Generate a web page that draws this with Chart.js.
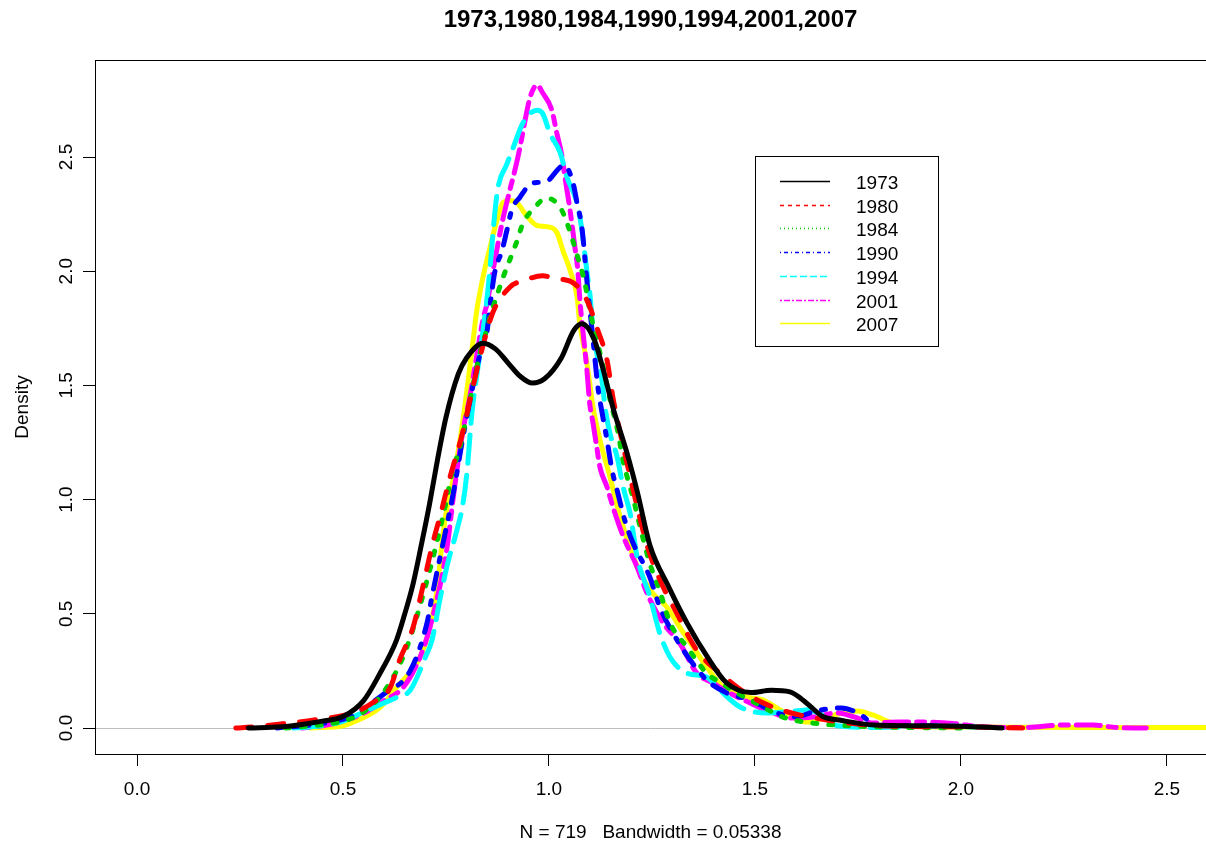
<!DOCTYPE html>
<html>
<head>
<meta charset="utf-8">
<script src="https://cdn.jsdelivr.net/npm/chart.js@4.4.1/dist/chart.umd.min.js"></script>
<style>
  html, body { margin: 0; padding: 0; background: #fff; overflow: hidden; }
  canvas { display: block; }
</style>
</head>
<body>
<canvas id="densityChart" width="1206" height="850"></canvas>
<script>
// series labels and colours (R palette 1..7)
const years = ["1973", "1980", "1984", "1990", "1994", "2001", "2007"];
const colors = ["#000000", "#FF0000", "#00CD00", "#0000FF", "#00FFFF", "#FF00FF", "#FFFF00"];

// density estimates (x = value, y = density)
const x1973 = [0.27, 0.35, 0.40, 0.45, 0.50, 0.55, 0.59, 0.63, 0.65, 0.67, 0.69, 0.71, 0.73, 0.75, 0.78, 0.80, 0.84, 0.87, 0.90, 0.93, 0.96, 0.99, 1.03, 1.06, 1.08, 1.11, 1.13, 1.155, 1.19, 1.215, 1.245, 1.29, 1.335, 1.385, 1.43, 1.49, 1.54, 1.585, 1.625, 1.665, 1.705, 1.79, 1.9, 2.0, 2.1];
const y1973 = [0, 0.005, 0.015, 0.03, 0.05, 0.12, 0.24, 0.385, 0.50, 0.63, 0.80, 0.98, 1.18, 1.36, 1.55, 1.62, 1.685, 1.66, 1.6, 1.54, 1.51, 1.53, 1.62, 1.74, 1.77, 1.70, 1.58, 1.405, 1.20, 1.03, 0.80, 0.62, 0.46, 0.31, 0.20, 0.155, 0.165, 0.158, 0.11, 0.05, 0.035, 0.013, 0.01, 0.008, 0];

const x1980 = [0.24, 0.28, 0.36, 0.43, 0.53, 0.58, 0.614, 0.638, 0.67, 0.694, 0.718, 0.736, 0.76, 0.79, 0.81, 0.837, 0.864, 0.905, 0.94, 0.985, 1.002, 1.03, 1.058, 1.082, 1.10, 1.116, 1.141, 1.155, 1.172, 1.192, 1.214, 1.238, 1.269, 1.311, 1.359, 1.422, 1.471, 1.52, 1.58, 1.675, 1.8, 2.0, 2.15];
const y1980 = [0, 0.005, 0.02, 0.035, 0.07, 0.12, 0.175, 0.30, 0.44, 0.62, 0.81, 0.93, 1.10, 1.29, 1.45, 1.655, 1.82, 1.93, 1.96, 1.98, 1.975, 1.965, 1.95, 1.905, 1.84, 1.755, 1.61, 1.45, 1.30, 1.14, 0.97, 0.80, 0.65, 0.50, 0.34, 0.23, 0.16, 0.11, 0.07, 0.035, 0.01, 0.005, 0];

const x1984 = [0.36, 0.45, 0.50, 0.55, 0.60, 0.65, 0.70, 0.748, 0.765, 0.784, 0.803, 0.833, 0.85, 0.857, 0.874, 0.888, 0.905, 0.922, 0.937, 0.961, 0.995, 1.027, 1.046, 1.07, 1.087, 1.10, 1.116, 1.128, 1.148, 1.167, 1.18, 1.192, 1.204, 1.216, 1.245, 1.269, 1.294, 1.335, 1.383, 1.415, 1.46, 1.512, 1.568, 1.638, 1.70, 1.8, 2.0];
const y1984 = [0, 0.015, 0.03, 0.07, 0.16, 0.33, 0.62, 0.97, 1.12, 1.23, 1.39, 1.645, 1.75, 1.80, 1.895, 1.97, 2.05, 2.13, 2.21, 2.27, 2.32, 2.28, 2.20, 2.06, 1.95, 1.82, 1.70, 1.61, 1.44, 1.30, 1.17, 1.085, 1.01, 0.92, 0.72, 0.60, 0.46, 0.355, 0.24, 0.20, 0.15, 0.10, 0.048, 0.022, 0.013, 0.005, 0];

const x1990 = [0.34, 0.45, 0.52, 0.57, 0.60, 0.663, 0.704, 0.716, 0.743, 0.77, 0.791, 0.833, 0.85, 0.857, 0.869, 0.886, 0.898, 0.91, 0.93, 0.954, 0.978, 1.0, 1.019, 1.036, 1.058, 1.068, 1.08, 1.092, 1.107, 1.119, 1.129, 1.141, 1.153, 1.167, 1.184, 1.204, 1.245, 1.269, 1.311, 1.342, 1.383, 1.432, 1.488, 1.553, 1.60, 1.65, 1.71, 1.75, 1.80, 1.90, 2.0];
const y1990 = [0, 0.02, 0.05, 0.11, 0.15, 0.25, 0.46, 0.575, 0.81, 1.05, 1.27, 1.64, 1.74, 1.85, 2.0, 2.09, 2.18, 2.27, 2.325, 2.38, 2.39, 2.40, 2.44, 2.465, 2.39, 2.30, 2.19, 1.96, 1.70, 1.49, 1.38, 1.26, 1.13, 1.03, 0.91, 0.81, 0.66, 0.53, 0.385, 0.30, 0.21, 0.153, 0.123, 0.066, 0.05, 0.075, 0.088, 0.066, 0.01, 0.01, 0.005];

const x1994 = [0.38, 0.45, 0.50, 0.55, 0.60, 0.631, 0.663, 0.70, 0.716, 0.735, 0.752, 0.777, 0.791, 0.801, 0.813, 0.823, 0.840, 0.852, 0.874, 0.898, 0.913, 0.937, 0.971, 0.985, 1.002, 1.027, 1.044, 1.068, 1.08, 1.092, 1.10, 1.107, 1.116, 1.129, 1.136, 1.148, 1.165, 1.18, 1.197, 1.214, 1.245, 1.269, 1.294, 1.335, 1.383, 1.415, 1.464, 1.53, 1.60, 1.63, 1.66, 1.70, 1.8, 1.95, 2.05];
const y1994 = [0, 0.01, 0.03, 0.07, 0.11, 0.135, 0.165, 0.31, 0.385, 0.56, 0.705, 0.87, 0.98, 1.12, 1.38, 1.52, 1.74, 1.92, 2.34, 2.47, 2.54, 2.65, 2.705, 2.69, 2.605, 2.52, 2.41, 2.30, 2.18, 2.0, 1.89, 1.74, 1.64, 1.52, 1.405, 1.29, 1.19, 1.055, 0.94, 0.75, 0.575, 0.415, 0.31, 0.24, 0.223, 0.166, 0.092, 0.066, 0.075, 0.08, 0.06, 0.01, 0.002, 0.01, 0.003];

const x2001 = [0.40, 0.45, 0.50, 0.55, 0.60, 0.647, 0.687, 0.711, 0.743, 0.755, 0.767, 0.791, 0.808, 0.82, 0.84, 0.85, 0.857, 0.869, 0.886, 0.905, 0.917, 0.93, 0.942, 0.954, 0.971, 0.985, 1.007, 1.019, 1.032, 1.039, 1.051, 1.063, 1.07, 1.075, 1.092, 1.099, 1.107, 1.116, 1.124, 1.141, 1.155, 1.18, 1.214, 1.238, 1.277, 1.318, 1.359, 1.398, 1.439, 1.488, 1.544, 1.585, 1.641, 1.70, 1.748, 1.786, 1.85, 1.90, 1.98, 2.05, 2.15, 2.25, 2.32, 2.38, 2.45];
const y2001 = [0, 0.01, 0.03, 0.065, 0.12, 0.18, 0.31, 0.44, 0.69, 0.82, 1.0, 1.30, 1.45, 1.58, 1.79, 1.86, 1.93, 2.05, 2.21, 2.355, 2.44, 2.545, 2.66, 2.76, 2.815, 2.78, 2.705, 2.605, 2.5, 2.41, 2.27, 2.105, 2.005, 1.875, 1.57, 1.42, 1.335, 1.23, 1.14, 1.055, 0.97, 0.84, 0.705, 0.59, 0.46, 0.37, 0.24, 0.197, 0.153, 0.11, 0.066, 0.044, 0.048, 0.066, 0.044, 0.022, 0.026, 0.026, 0.02, 0.005, 0.002, 0.013, 0.013, 0.002, 0];

const x2007 = [0.42, 0.50, 0.517, 0.59, 0.631, 0.687, 0.711, 0.728, 0.743, 0.752, 0.767, 0.784, 0.801, 0.816, 0.825, 0.840, 0.857, 0.874, 0.888, 0.905, 0.922, 0.947, 0.971, 0.995, 1.019, 1.034, 1.051, 1.068, 1.075, 1.092, 1.107, 1.124, 1.148, 1.172, 1.197, 1.221, 1.252, 1.286, 1.318, 1.350, 1.383, 1.422, 1.480, 1.519, 1.561, 1.592, 1.626, 1.675, 1.723, 1.748, 1.786, 1.828, 1.869, 2.0, 2.3, 2.6];
const y2007 = [0, 0.01, 0.02, 0.09, 0.18, 0.31, 0.44, 0.60, 0.85, 0.96, 1.085, 1.26, 1.48, 1.70, 1.83, 1.975, 2.105, 2.225, 2.30, 2.31, 2.30, 2.24, 2.20, 2.195, 2.17, 2.09, 2.005, 1.89, 1.77, 1.60, 1.405, 1.26, 1.10, 0.93, 0.79, 0.68, 0.59, 0.53, 0.44, 0.355, 0.267, 0.18, 0.136, 0.123, 0.079, 0.048, 0.026, 0.048, 0.07, 0.074, 0.057, 0.026, 0.009, 0.004, 0.002, 0.002];

// axis ticks
const xTicks = [0, 0.5, 1.0, 1.5, 2.0, 2.5];
const yTicks = [0, 0.5, 1.0, 1.5, 2.0, 2.5];

const seriesX = [x1973, x1980, x1984, x1990, x1994, x2001, x2007];
const seriesY = [y1973, y1980, y1984, y1990, y1994, y2001, y2007];

// R line types: solid, dashed, dotted, dotdash, longdash, twodash, solid (lwd 4)
const lineDash = [[], [16, 16], [4, 12], [4, 12, 16, 12], [28, 12], [8, 8, 24, 8], []];
const legendDash = [[], [4, 4], [1, 3], [1, 3, 4, 3], [7, 3], [2, 2, 6, 2], []];

const FONT = "'Liberation Sans', Arial, Helvetica, sans-serif";

const datasets = years.map((yr, i) => ({
  label: yr,
  data: seriesX[i].map((x, j) => ({ x: x, y: seriesY[i][j] })),
  borderColor: colors[i],
  borderWidth: 5,
  borderDash: lineDash[i],
  borderCapStyle: "round",
  borderJoinStyle: "round",
  cubicInterpolationMode: "monotone",
  pointRadius: 0,
  fill: false,
}));

// grey zero line, plot frame and the R-style legend
const rDecor = {
  id: "rDecor",
  beforeDatasetsDraw(chart) {
    const { ctx, chartArea } = chart;
    const y0 = Math.round(chart.scales.y.getPixelForValue(0)) + 0.5;
    ctx.save();
    ctx.strokeStyle = "#BEBEBE";
    ctx.lineWidth = 1;
    ctx.beginPath();
    ctx.moveTo(chartArea.left, y0);
    ctx.lineTo(chartArea.right, y0);
    ctx.stroke();
    ctx.restore();
  },
  afterDatasetsDraw(chart) {
    const { ctx, chartArea } = chart;
    ctx.save();
    ctx.strokeStyle = "#000";
    ctx.lineWidth = 1;
    ctx.strokeRect(chartArea.left + 0.5, chartArea.top + 0.5, chartArea.right + 2 - chartArea.left, chartArea.bottom - chartArea.top);

    // legend box
    ctx.fillStyle = "#fff";
    ctx.fillRect(755, 156, 183, 190);
    ctx.strokeRect(755.5, 156.5, 183, 190);
    ctx.font = "19px " + FONT;
    ctx.textBaseline = "middle";
    ctx.textAlign = "left";
    years.forEach((yr, i) => {
      const ly = Math.round(181 + i * 23.7) + 0.5;
      ctx.strokeStyle = colors[i];
      ctx.lineWidth = 1.3;
      ctx.setLineDash(legendDash[i]);
      ctx.beginPath();
      ctx.moveTo(780, ly);
      ctx.lineTo(830, ly);
      ctx.stroke();
      ctx.setLineDash([]);
      ctx.fillStyle = "#000";
      ctx.fillText(yr, 856, ly + 2);
    });
    ctx.restore();
  },
};

new Chart(document.getElementById("densityChart"), {
  type: "line",
  data: { datasets: datasets },
  plugins: [rDecor],
  options: {
    responsive: false,
    animation: false,
    devicePixelRatio: 1,
    layout: { padding: 0 },
    plugins: {
      legend: { display: false },
      tooltip: { enabled: false },
      title: {
        display: true,
        fullSize: false,
        text: years.join(","),
        color: "#000",
        font: { family: FONT, size: 24, weight: "bold", lineHeight: 1.2 },
        padding: { top: 6, bottom: 25.2 },
      },
    },
    scales: {
      x: {
        type: "linear",
        min: -0.102,
        max: 2.595,
        afterBuildTicks: (scale) => { scale.ticks = xTicks.map((v) => ({ value: v })); },
        afterFit: (scale) => { scale.height = 96; },
        ticks: {
          callback: (v) => v.toFixed(1),
          color: "#000",
          font: { family: FONT, size: 19 },
          padding: 12,
          maxRotation: 0,
          autoSkip: false,
        },
        grid: { drawOnChartArea: false, drawTicks: true, tickLength: 12, color: "#000", lineWidth: 1 },
        border: { display: false },
        title: {
          display: true,
          text: "N = 719   Bandwidth = 0.05338",
          color: "#000",
          font: { family: FONT, size: 19 },
          padding: { top: 0, bottom: 6 },
        },
      },
      y: {
        type: "linear",
        min: -0.1138,
        max: 2.9247,
        afterBuildTicks: (scale) => { scale.ticks = yTicks.map((v) => ({ value: v })); },
        afterFit: (scale) => { scale.width = 95; },
        ticks: {
          callback: (v) => v.toFixed(1),
          color: "#000",
          font: { family: FONT, size: 19 },
          padding: 3,
          minRotation: 90,
          maxRotation: 90,
          crossAlign: "center",
          autoSkip: false,
        },
        grid: { drawOnChartArea: false, drawTicks: true, tickLength: 12, color: "#000", lineWidth: 1 },
        border: { display: false },
        title: {
          display: true,
          text: "Density",
          color: "#000",
          font: { family: FONT, size: 19 },
          padding: { top: 11, bottom: 0 },
        },
      },
    },
  },
});
</script>
</body>
</html>
